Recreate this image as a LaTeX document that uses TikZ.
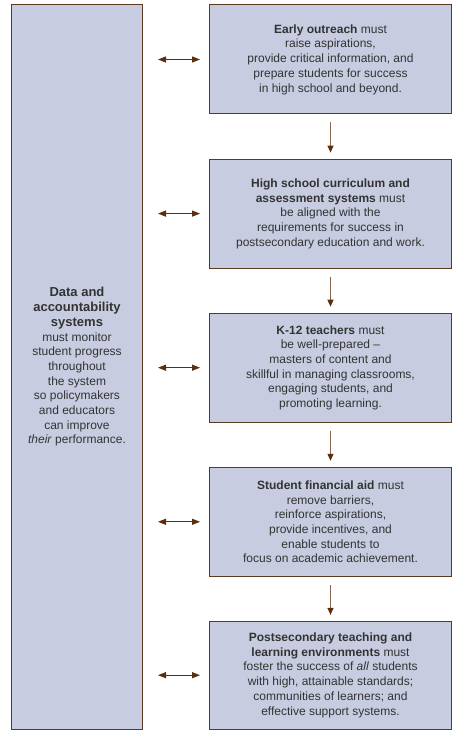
\documentclass[tikz,border=0pt]{standalone}
\usepackage{fontspec}
\setmainfont{Liberation Sans}
\usetikzlibrary{arrows.meta,calc}
\definecolor{boxfill}{HTML}{C8CCE0}
\definecolor{boxline}{HTML}{5A3A1E}
\definecolor{shaft}{HTML}{8A6650}
\definecolor{tip}{HTML}{5A2E0E}
\definecolor{txt}{HTML}{333333}
\newcommand{\headfont}{\fontsize{13}{14.8}\selectfont\bfseries}
\begin{document}
\begin{tikzpicture}[x=1pt,y=-1pt,
  panel/.style={draw=boxline, line width=1pt, fill=boxfill, inner sep=0pt,
    text=txt, align=center, font=\fontsize{12}{14.7}\selectfont},
  stage/.style={panel, anchor=north west, minimum width=242pt, minimum height=109pt},
  flow/.style={draw=shaft, line width=1.2pt, -{Triangle[width=6pt,length=7pt,color=tip,fill=tip]}},
  link/.style={draw=tip, line width=1.2pt, {Triangle[width=6pt,length=8pt]}-{Triangle[width=6pt,length=8pt]}}]
\useasboundingbox (0,0) rectangle (469,730);

\node[panel, anchor=north west, minimum width=131pt, minimum height=724pt] (L) at (11,4.5)
  {{\headfont Data and}\\
   {\headfont accountability}\\
   {\headfont systems}\\
   must monitor\\ student progress\\ throughout\\ the system\\ so policymakers\\
   and educators\\ can improve\\ \textit{their} performance.};

\node[stage] (B1) at (209,4.5)
  {\textbf{Early outreach} must\\ raise aspirations,\\ provide critical information, and\\
   prepare students for success\\ in high school and beyond.};
\node[stage] (B2) at (209,158.6)
  {\textbf{High school curriculum and}\\ \textbf{assessment systems} must\\
   be aligned with the\\ requirements for success in\\ postsecondary education and work.};
\node[stage] (B3) at (209,312.7)
  {\textbf{K-12 teachers} must\\ be well-prepared --\\ masters of content and\\
   skillful in managing classrooms,\\ engaging students, and\\ promoting learning.};
\node[stage] (B4) at (209,466.8)
  {\textbf{Student financial aid} must\\ remove barriers,\\ reinforce aspirations,\\
   provide incentives, and\\ enable students to\\ focus on academic achievement.};
\node[stage, minimum height=107.6pt] (B5) at (209,620.9)
  {\textbf{Postsecondary teaching and}\\ \textbf{learning environments} must\\
   foster the success of \textit{all} students\\ with high, attainable standards;\\
   communities of learners; and\\ effective support systems.};

\foreach \a/\b in {B1/B2,B2/B3,B3/B4,B4/B5}
  \draw[flow, shorten <=8pt, shorten >=6pt] (\a.south) -- (\b.north);

\foreach \b in {B1,B2,B3,B4,B5}
  \draw[link, shorten <=15pt, shorten >=9pt] (L.east |- \b.west) -- (\b.west);
\end{tikzpicture}
\end{document}
